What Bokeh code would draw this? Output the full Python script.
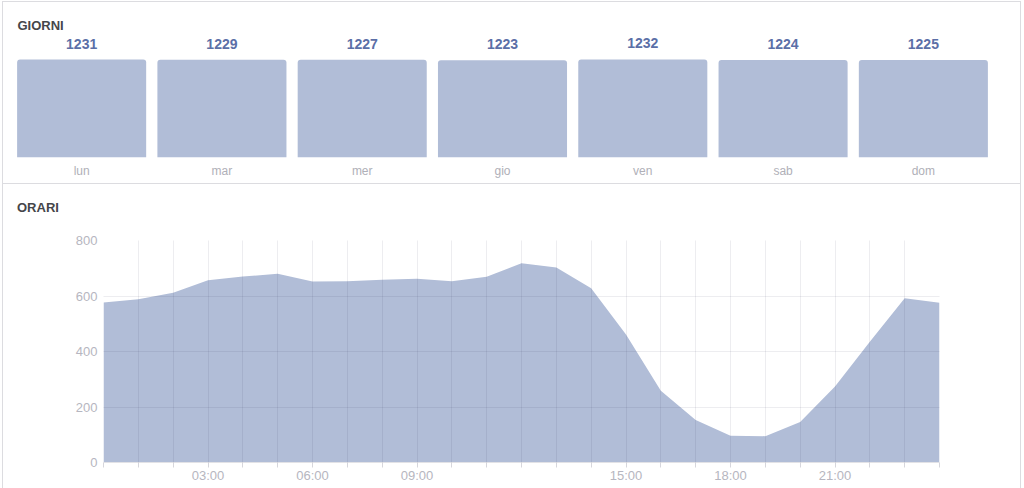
from bokeh.plotting import figure
from bokeh.layouts import column
from bokeh.models import Range1d, FactorRange, FixedTicker, ColumnDataSource, Div
from bokeh.core.properties import value
from bokeh.embed import file_html
from bokeh.resources import INLINE

# ---- data ----
days = ["lun", "mar", "mer", "gio", "ven", "sab", "dom"]
day_counts = [1231, 1229, 1227, 1223, 1232, 1224, 1225]

hours = list(range(25))
hour_counts = [577, 588, 612, 657, 670, 680, 652, 653, 659, 662, 653, 669, 718,
               703, 628, 461, 259, 153, 96, 95, 146, 274, 435, 592, 576]
hour_tick_labels = {3: "03:00", 6: "06:00", 9: "09:00", 15: "15:00", 18: "18:00", 21: "21:00"}
y_ticks = [0, 200, 400, 600, 800]

BAR = "#b1bdd7"
BORDER = "#dcdce0"
FONT = "Liberation Sans"
TITLE_COLOR = "#45464a"

W = 1017

# ---- top panel: GIORNI ----
H1 = 181
mbl1, mbt1, fw1, fh1 = 8, 28, 982, 127
mbr1 = W - mbl1 - fw1
mbb1 = H1 - mbt1 - fh1

p1 = figure(width=W, height=H1, x_range=FactorRange(factors=days, range_padding=0),
            y_range=Range1d(0, 1231 * fh1 / 98.0), y_axis_location=None,
            output_backend="svg", toolbar_location=None,
            min_border_left=mbl1, min_border_right=mbr1, min_border_top=mbt1, min_border_bottom=mbb1,
            margin=(1, 1, 0, 1), styles={"background-color": "white"})
p1.frame_align = False
p1.outline_line_color = None
p1.grid.visible = False
p1.background_fill_color = "white"
p1.border_fill_color = "white"

p1.title.text = "GIORNI"
p1.title.align = "left"
p1.title.offset = 6
p1.title.standoff = -5
p1.title.text_font = FONT
p1.title.text_font_style = "bold"
p1.title.text_font_size = "13px"
p1.title.text_color = TITLE_COLOR

src1 = ColumnDataSource(dict(day=days, n=day_counts, label=[str(v) for v in day_counts]))
p1.vbar(x="day", top="n", width=0.92, source=src1, fill_color=BAR, line_color=None,
        border_radius=(3, 3, 0, 0))
p1.text(x="day", y="n", text="label", source=src1, text_align="center", text_baseline="bottom",
        y_offset=-11, text_font=value(FONT), text_font_style="bold", text_font_size="14px",
        text_color="#5b6fa7")

p1.xaxis.axis_line_color = None
p1.xaxis.major_tick_line_color = None
p1.xaxis.minor_tick_line_color = None
p1.xaxis.major_tick_out = 0
p1.xaxis.major_tick_in = 0
p1.xaxis.major_label_standoff = 6
p1.xaxis.major_label_text_color = "#b0b0b8"
p1.xaxis.major_label_text_font = FONT
p1.xaxis.major_label_text_font_size = "12px"

# ---- bottom panel: ORARI ----
HD = 40
title2 = Div(
    text=('<div style="width:%dpx;height:%dpx;box-sizing:border-box;background:white;'
          'padding:16px 0 0 14px;font-family:\'Liberation Sans\';font-weight:bold;'
          'font-size:13px;line-height:15px;color:%s;">ORARI</div>') % (W, HD, TITLE_COLOR),
    width=W, height=HD, margin=(1, 1, 0, 1), styles={"background-color": "white"})

H2 = 264
mbl2, mbt2, fw2, fh2 = 100, 16, 836, 222
mbr2 = W - mbl2 - fw2
mbb2 = H2 - mbt2 - fh2

p2 = figure(width=W, height=H2, x_range=Range1d(0, 24), y_range=Range1d(0, 800),
            output_backend="svg", toolbar_location=None,
            min_border_left=mbl2, min_border_right=mbr2, min_border_top=mbt2, min_border_bottom=mbb2,
            margin=(0, 1, 0, 1), styles={"background-color": "white"})
p2.frame_align = False
p2.outline_line_color = None
p2.background_fill_color = "white"
p2.border_fill_color = "white"

p2.varea(x=hours, y1=0, y2=hour_counts, fill_color=BAR)

p2.xaxis.ticker = FixedTicker(ticks=hours)
p2.xaxis.major_label_overrides = {h: hour_tick_labels.get(h, "") for h in hours}
p2.xgrid.ticker = FixedTicker(ticks=hours)
p2.yaxis.ticker = FixedTicker(ticks=y_ticks)
p2.ygrid.ticker = FixedTicker(ticks=y_ticks)
p2.grid.grid_line_color = "#1a1a40"
p2.grid.grid_line_alpha = 0.08
p2.grid.level = "annotation"

p2.xaxis.axis_line_color = "#e2e2e6"
p2.xaxis.major_tick_line_color = "#d6d6dc"
p2.xaxis.major_tick_out = 5
p2.xaxis.major_tick_in = 0
p2.xaxis.minor_tick_line_color = None
p2.xaxis.major_label_standoff = 0
p2.yaxis.axis_line_color = None
p2.yaxis.major_tick_line_color = None
p2.yaxis.minor_tick_line_color = None
p2.yaxis.major_tick_out = 0
p2.yaxis.major_tick_in = 0
p2.yaxis.major_label_standoff = 6
for ax in (p2.xaxis, p2.yaxis):
    ax.major_label_text_color = "#b6b6c0"
    ax.major_label_text_font = FONT
    ax.major_label_text_font_size = "13px"

layout = column(p1, title2, p2, spacing=0, margin=(1, 0, 0, 2),
                styles={"background-color": BORDER})
open("out.html", "w").write(file_html(layout, INLINE))
